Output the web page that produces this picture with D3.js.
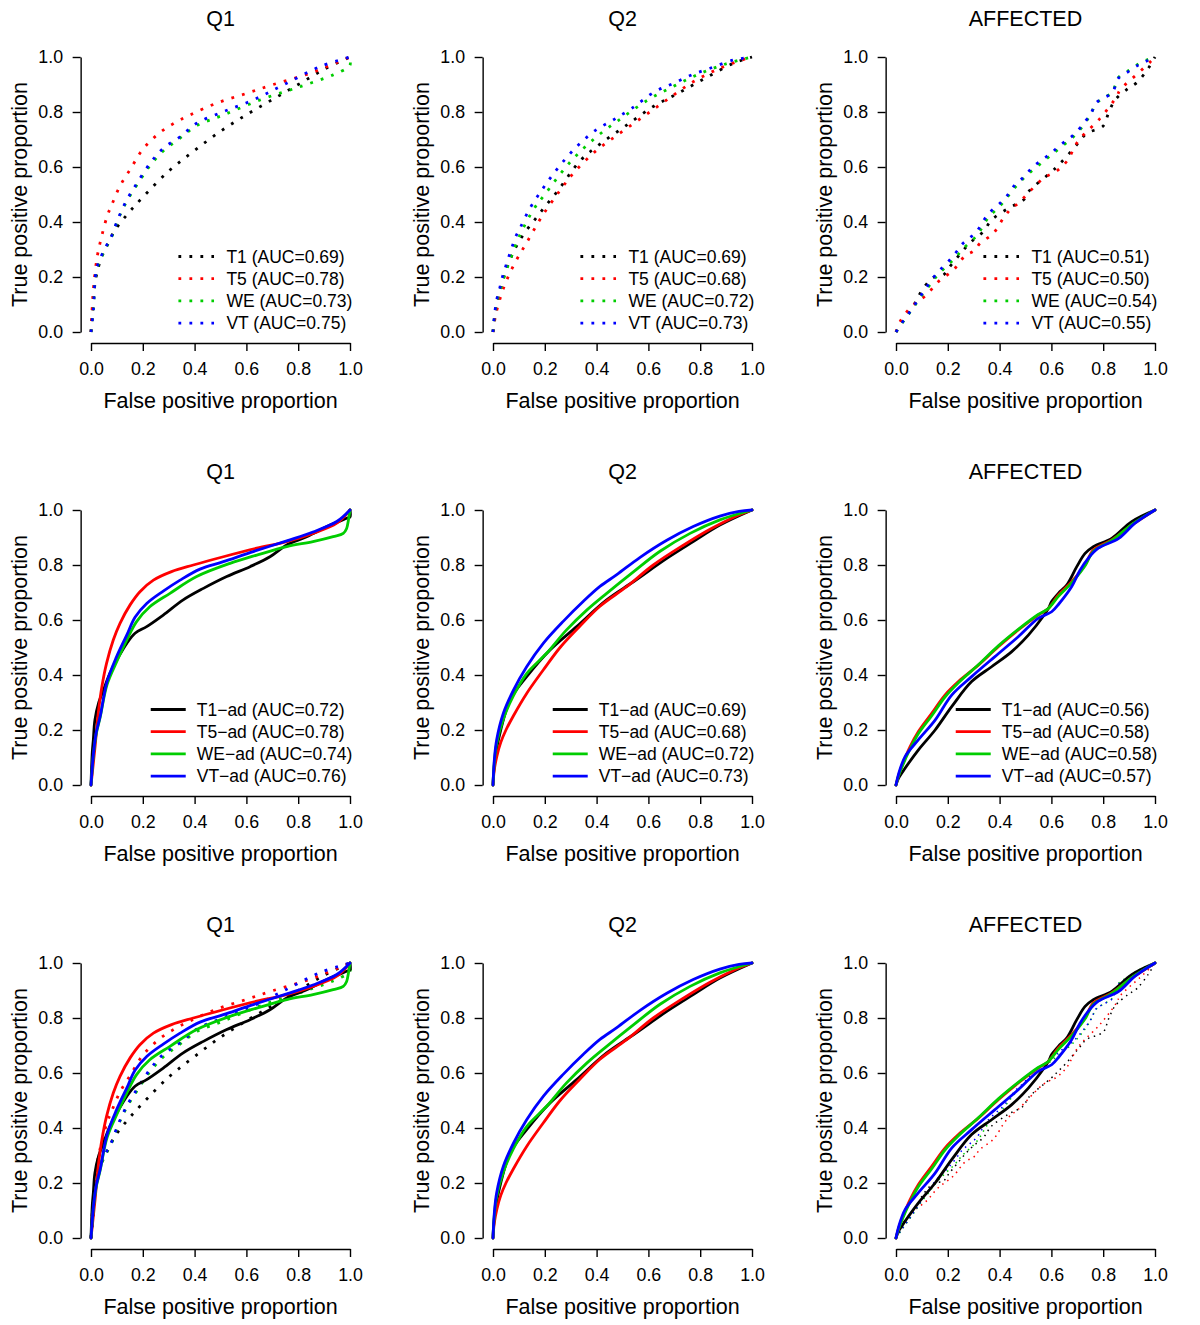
<!DOCTYPE html>
<html>
<head>
<meta charset="utf-8">
<script src="https://cdn.jsdelivr.net/npm/d3@7"></script>
<style>
  html, body { margin: 0; padding: 0; background: #ffffff; }
  svg { display: block; }
</style>
</head>
<body>
<svg id="chart" width="1200" height="1325"></svg>
<script>
// ---------------- DATA ----------------
const seriesColors = ["#000000", "#FF0000", "#00CD00", "#0000FF"];
const panelTitles = ["Q1", "Q2", "AFFECTED"];
const xTicks = [0, 0.2, 0.4, 0.6, 0.8, 1.0];
const yTicks = [0, 0.2, 0.4, 0.6, 0.8, 1.0];
const xAxisTitle = "False positive proportion";
const yAxisTitle = "True positive proportion";

// legend labels
const Q1_dotLabels  = ["T1 (AUC=0.69)", "T5 (AUC=0.78)", "WE (AUC=0.73)", "VT (AUC=0.75)"];
const Q2_dotLabels  = ["T1 (AUC=0.69)", "T5 (AUC=0.68)", "WE (AUC=0.72)", "VT (AUC=0.73)"];
const AFF_dotLabels = ["T1 (AUC=0.51)", "T5 (AUC=0.50)", "WE (AUC=0.54)", "VT (AUC=0.55)"];
const Q1_adLabels   = ["T1\u2212ad (AUC=0.72)", "T5\u2212ad (AUC=0.78)", "WE\u2212ad (AUC=0.74)", "VT\u2212ad (AUC=0.76)"];
const Q2_adLabels   = ["T1\u2212ad (AUC=0.69)", "T5\u2212ad (AUC=0.68)", "WE\u2212ad (AUC=0.72)", "VT\u2212ad (AUC=0.73)"];
const AFF_adLabels  = ["T1\u2212ad (AUC=0.56)", "T5\u2212ad (AUC=0.58)", "WE\u2212ad (AUC=0.58)", "VT\u2212ad (AUC=0.57)"];

// Q1 dotted ROC curves [FPR, TPR]
const Q1_T1 = [[0,0],[0.005,0.06],[0.012,0.15],[0.022,0.21],[0.04,0.27],[0.06,0.31],[0.093,0.371],[0.144,0.432],[0.196,0.486],[0.3,0.585],[0.4,0.66],[0.5,0.73],[0.6,0.79],[0.7,0.845],[0.8,0.9],[0.9,0.955],[1,1]];
const Q1_T5 = [[0,0],[0.009,0.153],[0.024,0.274],[0.041,0.347],[0.063,0.423],[0.08,0.462],[0.112,0.531],[0.154,0.595],[0.198,0.662],[0.254,0.716],[0.315,0.756],[0.382,0.789],[0.485,0.832],[0.601,0.868],[0.704,0.9],[0.846,0.941],[0.95,0.98],[1,1]];
const Q1_WE = [[0,0],[0.009,0.08],[0.022,0.225],[0.054,0.3],[0.076,0.338],[0.105,0.41],[0.138,0.475],[0.183,0.543],[0.228,0.605],[0.279,0.658],[0.344,0.705],[0.408,0.75],[0.511,0.789],[0.659,0.846],[0.807,0.892],[0.935,0.935],[0.987,0.959],[1,0.97],[1,1]];
const Q1_VT = [[0,0],[0.009,0.08],[0.022,0.231],[0.054,0.304],[0.076,0.341],[0.105,0.413],[0.138,0.48],[0.17,0.53],[0.228,0.613],[0.279,0.668],[0.344,0.71],[0.408,0.759],[0.511,0.801],[0.627,0.844],[0.742,0.898],[0.884,0.965],[1,1]];

// Q2 dotted
const Q2_T1 = [[0,0],[0.01,0.07],[0.03,0.16],[0.06,0.25],[0.104,0.335],[0.175,0.425],[0.252,0.516],[0.336,0.622],[0.413,0.683],[0.51,0.748],[0.619,0.82],[0.722,0.872],[0.825,0.926],[0.928,0.977],[1,1]];
const Q2_T5 = [[0,0],[0.01,0.06],[0.03,0.13],[0.053,0.189],[0.089,0.259],[0.13,0.325],[0.188,0.419],[0.259,0.515],[0.31,0.577],[0.394,0.656],[0.478,0.715],[0.58,0.783],[0.671,0.844],[0.773,0.91],[0.876,0.959],[0.98,0.995],[1,1]];
const Q2_WE = [[0,0],[0.003,0.035],[0.014,0.105],[0.03,0.16],[0.05,0.22],[0.075,0.285],[0.1,0.345],[0.156,0.445],[0.2,0.5],[0.3,0.62],[0.4,0.71],[0.5,0.78],[0.6,0.845],[0.7,0.895],[0.8,0.94],[0.9,0.975],[1,1]];
const Q2_VT = [[0,0],[0.003,0.037],[0.014,0.116],[0.025,0.155],[0.034,0.192],[0.046,0.229],[0.059,0.268],[0.072,0.304],[0.085,0.341],[0.104,0.377],[0.14,0.446],[0.184,0.51],[0.227,0.567],[0.282,0.632],[0.336,0.686],[0.398,0.735],[0.464,0.771],[0.535,0.813],[0.625,0.874],[0.696,0.904],[0.767,0.935],[0.838,0.959],[0.928,0.989],[1,1]];

// AFFECTED dotted
const AFF_T1 = [[0,0],[0.02,0.03],[0.05,0.07],[0.08,0.116],[0.099,0.15],[0.144,0.198],[0.183,0.207],[0.202,0.231],[0.234,0.268],[0.266,0.304],[0.295,0.332],[0.337,0.365],[0.369,0.407],[0.434,0.45],[0.492,0.48],[0.511,0.51],[0.601,0.583],[0.627,0.607],[0.659,0.638],[0.704,0.688],[0.736,0.722],[0.8,0.749],[0.82,0.795],[0.846,0.844],[0.897,0.886],[0.93,0.907],[0.974,0.959],[1,1]];
const AFF_T5 = [[0,0],[0.015,0.037],[0.06,0.092],[0.118,0.135],[0.163,0.183],[0.221,0.225],[0.266,0.276],[0.302,0.296],[0.324,0.322],[0.376,0.359],[0.414,0.413],[0.44,0.444],[0.472,0.468],[0.569,0.559],[0.62,0.585],[0.659,0.62],[0.704,0.695],[0.788,0.777],[0.852,0.856],[0.865,0.88],[0.942,0.947],[0.987,0.987],[1,1]];
const AFF_WE = [[0,0],[0.022,0.03],[0.045,0.06],[0.068,0.09],[0.093,0.125],[0.138,0.18],[0.163,0.21],[0.196,0.24],[0.229,0.27],[0.256,0.3],[0.311,0.35],[0.356,0.415],[0.408,0.465],[0.459,0.525],[0.511,0.575],[0.575,0.625],[0.627,0.665],[0.685,0.71],[0.73,0.76],[0.756,0.8],[0.771,0.83],[0.8,0.85],[0.833,0.87],[0.846,0.895],[0.858,0.925],[0.897,0.95],[0.936,0.975],[0.97,0.99],[1,1]];
const AFF_VT = [[0,0],[0.022,0.032],[0.045,0.062],[0.068,0.093],[0.093,0.128],[0.112,0.155],[0.138,0.189],[0.163,0.219],[0.196,0.25],[0.229,0.286],[0.256,0.32],[0.283,0.341],[0.311,0.365],[0.356,0.429],[0.408,0.474],[0.436,0.504],[0.459,0.535],[0.488,0.559],[0.511,0.583],[0.537,0.607],[0.598,0.65],[0.627,0.674],[0.659,0.698],[0.685,0.716],[0.73,0.765],[0.756,0.801],[0.771,0.832],[0.8,0.85],[0.833,0.868],[0.846,0.892],[0.858,0.922],[0.897,0.947],[0.936,0.971],[0.963,0.983],[1,1]];

// Q1 solid (-ad)
const Q1_T1ad = [[0,0],[0.005,0.12],[0.009,0.164],[0.015,0.236],[0.03,0.3],[0.048,0.345],[0.073,0.406],[0.107,0.467],[0.138,0.515],[0.17,0.552],[0.215,0.576],[0.279,0.618],[0.356,0.673],[0.434,0.715],[0.524,0.758],[0.614,0.794],[0.691,0.83],[0.756,0.873],[0.833,0.903],[0.923,0.945],[0.987,0.97],[1,0.975],[1,1]];
const Q1_T5ad = [[0,0],[0.015,0.133],[0.028,0.261],[0.042,0.357],[0.06,0.442],[0.086,0.527],[0.112,0.588],[0.151,0.655],[0.189,0.703],[0.241,0.745],[0.311,0.776],[0.395,0.8],[0.511,0.83],[0.64,0.861],[0.756,0.885],[0.857,0.915],[0.949,0.952],[1,1]];
const Q1_WEad = [[0,0],[0.01,0.115],[0.02,0.185],[0.035,0.245],[0.062,0.365],[0.1,0.45],[0.138,0.527],[0.176,0.594],[0.227,0.648],[0.305,0.697],[0.408,0.758],[0.537,0.806],[0.64,0.836],[0.756,0.867],[0.857,0.885],[0.935,0.903],[0.974,0.915],[0.987,0.933],[0.994,0.964],[1,1]];
const Q1_VTad = [[0,0],[0.01,0.12],[0.02,0.19],[0.035,0.248],[0.062,0.376],[0.099,0.467],[0.138,0.545],[0.17,0.61],[0.215,0.66],[0.279,0.705],[0.344,0.745],[0.421,0.785],[0.511,0.812],[0.614,0.845],[0.756,0.888],[0.857,0.92],[0.949,0.958],[1,1]];

// Q2 solid (-ad)
const Q2_T1ad = [[0,0],[0.005,0.07],[0.02,0.16],[0.066,0.309],[0.13,0.394],[0.22,0.491],[0.323,0.576],[0.439,0.673],[0.542,0.739],[0.671,0.824],[0.773,0.885],[0.876,0.945],[1,1]];
const Q2_T5ad = [[0,0],[0.005,0.055],[0.015,0.105],[0.03,0.155],[0.05,0.2],[0.079,0.252],[0.13,0.333],[0.194,0.418],[0.259,0.5],[0.336,0.578],[0.413,0.65],[0.516,0.721],[0.619,0.8],[0.735,0.872],[0.838,0.93],[0.928,0.973],[1,1]];
const Q2_WEad = [[0,0],[0.005,0.08],[0.014,0.15],[0.04,0.24],[0.079,0.325],[0.13,0.405],[0.207,0.479],[0.284,0.564],[0.362,0.636],[0.439,0.697],[0.542,0.775],[0.645,0.85],[0.761,0.915],[0.876,0.964],[1,1]];
const Q2_VTad = [[0,0],[0.005,0.09],[0.014,0.164],[0.04,0.261],[0.079,0.345],[0.13,0.43],[0.194,0.515],[0.271,0.595],[0.349,0.668],[0.413,0.722],[0.478,0.765],[0.568,0.828],[0.671,0.89],[0.773,0.94],[0.876,0.978],[0.95,0.995],[1,1]];

// AFFECTED solid (-ad)
const AFF_T1ad = [[0,0],[0.01,0.025],[0.035,0.061],[0.086,0.127],[0.151,0.2],[0.215,0.285],[0.292,0.376],[0.369,0.43],[0.447,0.485],[0.511,0.545],[0.572,0.618],[0.59,0.645],[0.601,0.667],[0.627,0.697],[0.659,0.727],[0.698,0.794],[0.73,0.842],[0.762,0.867],[0.833,0.897],[0.91,0.958],[1,1]];
const AFF_T5ad = [[0,0],[0.01,0.035],[0.022,0.067],[0.054,0.139],[0.086,0.194],[0.138,0.261],[0.189,0.327],[0.241,0.376],[0.318,0.436],[0.395,0.503],[0.472,0.564],[0.549,0.618],[0.588,0.642],[0.627,0.691],[0.678,0.739],[0.73,0.8],[0.762,0.855],[0.833,0.891],[0.91,0.945],[1,1]];
const AFF_WEad = [[0,0],[0.01,0.033],[0.022,0.063],[0.054,0.13],[0.086,0.186],[0.138,0.252],[0.189,0.32],[0.241,0.372],[0.318,0.437],[0.395,0.506],[0.472,0.566],[0.549,0.62],[0.588,0.642],[0.627,0.686],[0.678,0.735],[0.73,0.797],[0.762,0.85],[0.833,0.889],[0.91,0.947],[1,1]];
const AFF_VTad = [[0,0],[0.01,0.04],[0.035,0.103],[0.086,0.164],[0.151,0.236],[0.215,0.327],[0.292,0.394],[0.382,0.467],[0.472,0.539],[0.549,0.606],[0.601,0.63],[0.63,0.66],[0.678,0.721],[0.71,0.78],[0.742,0.824],[0.781,0.861],[0.86,0.897],[0.923,0.952],[1,1]];

// ---------------- PANEL DEFINITIONS ----------------
const panels = [
  {row:0, col:0, title:panelTitles[0], dotted:[Q1_T1,Q1_T5,Q1_WE,Q1_VT], solid:[], legend:Q1_dotLabels, legendStyle:"dot"},
  {row:0, col:1, title:panelTitles[1], dotted:[Q2_T1,Q2_T5,Q2_WE,Q2_VT], solid:[], legend:Q2_dotLabels, legendStyle:"dot"},
  {row:0, col:2, title:panelTitles[2], dotted:[AFF_T1,AFF_T5,AFF_WE,AFF_VT], solid:[], legend:AFF_dotLabels, legendStyle:"dot"},
  {row:1, col:0, title:panelTitles[0], dotted:[], solid:[Q1_T1ad,Q1_T5ad,Q1_WEad,Q1_VTad], legend:Q1_adLabels, legendStyle:"solid"},
  {row:1, col:1, title:panelTitles[1], dotted:[], solid:[Q2_T1ad,Q2_T5ad,Q2_WEad,Q2_VTad], legend:Q2_adLabels, legendStyle:"solid"},
  {row:1, col:2, title:panelTitles[2], dotted:[], solid:[AFF_T1ad,AFF_T5ad,AFF_WEad,AFF_VTad], legend:AFF_adLabels, legendStyle:"solid"},
  {row:2, col:0, title:panelTitles[0], dotted:[Q1_T1,Q1_T5,Q1_WE,Q1_VT], solid:[Q1_T1ad,Q1_T5ad,Q1_WEad,Q1_VTad], legend:null},
  {row:2, col:1, title:panelTitles[1], dotted:[], solid:[Q2_T1ad,Q2_T5ad,Q2_WEad,Q2_VTad], legend:null},
  {row:2, col:2, title:panelTitles[2], dotted:[AFF_T1,AFF_T5,AFF_WE,AFF_VT], solid:[AFF_T1ad,AFF_T5ad,AFF_WEad,AFF_VTad], legend:null, thinDots:true}
];

// ---------------- LAYOUT ----------------
const FONT = "'Liberation Sans', Arial, Helvetica, sans-serif";
const colX0 = [91, 493, 896];     // pixel of FPR = 0
const rowYTop = [57, 510, 963];   // pixel of TPR = 1
const W = 259, H = 275;
const padX = 0.04 * W, padY = 0.04 * H;

const svg = d3.select("#chart");
svg.append("rect").attr("width", 1200).attr("height", 1325).attr("fill", "#fff");

panels.forEach(p => {
  const x0 = colX0[p.col], yTop = rowYTop[p.row], y0 = yTop + H;
  const x = d3.scaleLinear().domain([0, 1]).range([x0, x0 + W]);
  const y = d3.scaleLinear().domain([0, 1]).range([y0, yTop]);
  const g = svg.append("g");

  // axes
  const xAxis = d3.axisBottom(x).tickValues(xTicks).tickFormat(d3.format(".1f"))
      .tickSize(8).tickSizeOuter(0).tickPadding(11.3);
  const yAxis = d3.axisLeft(y).tickValues(yTicks).tickFormat(d3.format(".1f"))
      .tickSize(8).tickSizeOuter(0).tickPadding(9.6);
  const gx = g.append("g").attr("transform", `translate(0,${y0 + padY})`).call(xAxis);
  const gy = g.append("g").attr("transform", `translate(${x0 - padX},0)`).call(yAxis);
  [gx, gy].forEach(ga => {
    ga.selectAll("path.domain").attr("stroke", "#000").attr("stroke-width", 1.4);
    ga.selectAll(".tick line").attr("stroke", "#000").attr("stroke-width", 1.4);
    ga.selectAll(".tick text").attr("fill", "#000").style("font-family", FONT).style("font-size", "17.8px");
  });

  // titles
  const cx = x0 + W / 2, cy = (yTop + y0) / 2;
  g.append("text").attr("x", cx).attr("y", yTop - 31).attr("text-anchor", "middle")
    .style("font-family", FONT).style("font-size", "21.5px").text(p.title);
  g.append("text").attr("x", cx).attr("y", y0 + 75.5).attr("text-anchor", "middle")
    .style("font-family", FONT).style("font-size", "21.5px").text(xAxisTitle);
  g.append("text").attr("transform", `translate(${x0 - 64},${cy}) rotate(-90)`).attr("text-anchor", "middle")
    .style("font-family", FONT).style("font-size", "21.5px").text(yAxisTitle);

  const line = d3.line().x(d => x(d[0])).y(d => y(d[1])).curve(d3.curveCatmullRom.alpha(0.5));

  // dotted curves
  p.dotted.forEach((s, i) => {
    g.append("path").attr("d", line(s)).attr("fill", "none")
      .attr("stroke", seriesColors[i])
      .attr("stroke-width", p.thinDots ? 1.5 : 2.8)
      .attr("stroke-dasharray", p.thinDots ? "1.5 4.5" : "2.8 8.2");
  });
  // solid curves
  p.solid.forEach((s, i) => {
    g.append("path").attr("d", line(s)).attr("fill", "none")
      .attr("stroke", seriesColors[i]).attr("stroke-width", 2.8)
      .attr("stroke-linejoin", "round").attr("stroke-linecap", "round");
  });

  // legend
  if (p.legend) {
    const tmp = g.append("g");
    let maxW = 0;
    p.legend.forEach(t => {
      const tt = tmp.append("text").style("font-family", FONT).style("font-size", "17.5px").text(t);
      maxW = Math.max(maxW, tt.node().getComputedTextLength());
    });
    tmp.remove();
    const textX = x0 + W + padX - 8 - maxW;
    p.legend.forEach((t, i) => {
      const ly = y0 - 75.5 + 22.2 * i;
      if (p.legendStyle === "dot") {
        g.append("line").attr("x1", textX - 48).attr("x2", textX - 12.4).attr("y1", ly).attr("y2", ly)
          .attr("stroke", seriesColors[i]).attr("stroke-width", 2.8).attr("stroke-dasharray", "2.8 8.2");
      } else {
        g.append("line").attr("x1", textX - 46).attr("x2", textX - 11).attr("y1", ly).attr("y2", ly)
          .attr("stroke", seriesColors[i]).attr("stroke-width", 2.8);
      }
      g.append("text").attr("x", textX).attr("y", ly + 6.2)
        .style("font-family", FONT).style("font-size", "17.5px").text(t);
    });
  }
});
</script>
</body>
</html>
